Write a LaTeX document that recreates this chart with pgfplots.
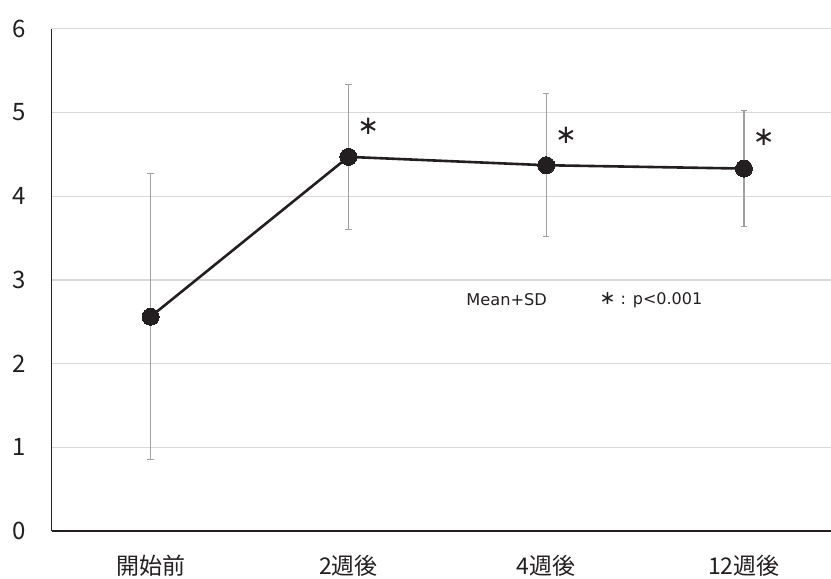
\documentclass[border=0pt]{standalone}
\usepackage{pgfplots}
\pgfplotsset{compat=1.18}
\usepackage{fontspec}
\setmainfont{Noto Sans CJK JP}
\newfontfamily\dv{DejaVu Sans}
\definecolor{gridc}{HTML}{D9D9D9}
\definecolor{ebar}{HTML}{A0A0A0}
\definecolor{ink}{HTML}{231F20}
\pgfplotstableread{
x y e
0 2.56 1.71
1 4.47 0.865
2 4.37 0.855
3 4.33 0.695
}\data
\begin{document}
\begin{tikzpicture}
\begin{axis}[
  scale only axis,
  width=779.3pt, height=502.2pt,
  xmin=-0.5, xmax=3.44,
  ymin=0, ymax=6,
  ytick={0,1,...,6},
  xtick={0,1,2,3},
  xticklabels={開始前,2週後,4週後,12週後},
  x tick label style={font=\fontsize{23}{26}\selectfont, anchor=center, yshift=-35pt, text=ink},
  y tick label style={font=\fontsize{24}{26}\selectfont, anchor=center, xshift=-33pt, text=ink},
  /pgf/number format/assume math mode=true,
  major tick length=0pt,
  ymajorgrids, grid style={gridc, line width=1.2pt},
  axis x line*=bottom, axis y line*=left,
  axis line style={ink, line width=1.6pt, -},
  clip=false,
]
\addplot[draw=none, mark=none, forget plot,
  error bars/.cd, y dir=both, y explicit,
  error bar style={ebar, line width=1.1pt},
  error mark options={ebar, line width=1.1pt, mark size=3.2pt, rotate=90}]
  table[x=x, y=y, y error=e]{\data};
\addplot[ink, line width=2.6pt, mark=*, mark size=8.5pt,
  mark options={fill=ink, draw=ink, line width=0pt}]
  table[x=x, y=y]{\data};
\node[font=\fontsize{26}{26}\selectfont\dv, text=ink] at (axis cs:1.1,4.83) {∗};
\node[font=\fontsize{26}{26}\selectfont\dv, text=ink] at (axis cs:2.1,4.73) {∗};
\node[font=\fontsize{26}{26}\selectfont\dv, text=ink] at (axis cs:3.1,4.70) {∗};
\node[font=\fontsize{16.2}{18}\selectfont\dv, text=ink] at (axis cs:1.8,2.76) {Mean+SD};
\node[font=\fontsize{16}{18}\selectfont\dv, text=ink] at (axis cs:2.53,2.76) {{\fontsize{19}{18}\selectfont ∗} : p<0.001};
\coordinate (SW) at (rel axis cs:0,0);
\end{axis}
\pgfresetboundingbox
\path (SW) ++(-51.7pt,-48pt) rectangle ++(831pt,579pt);
\end{tikzpicture}
\end{document}
